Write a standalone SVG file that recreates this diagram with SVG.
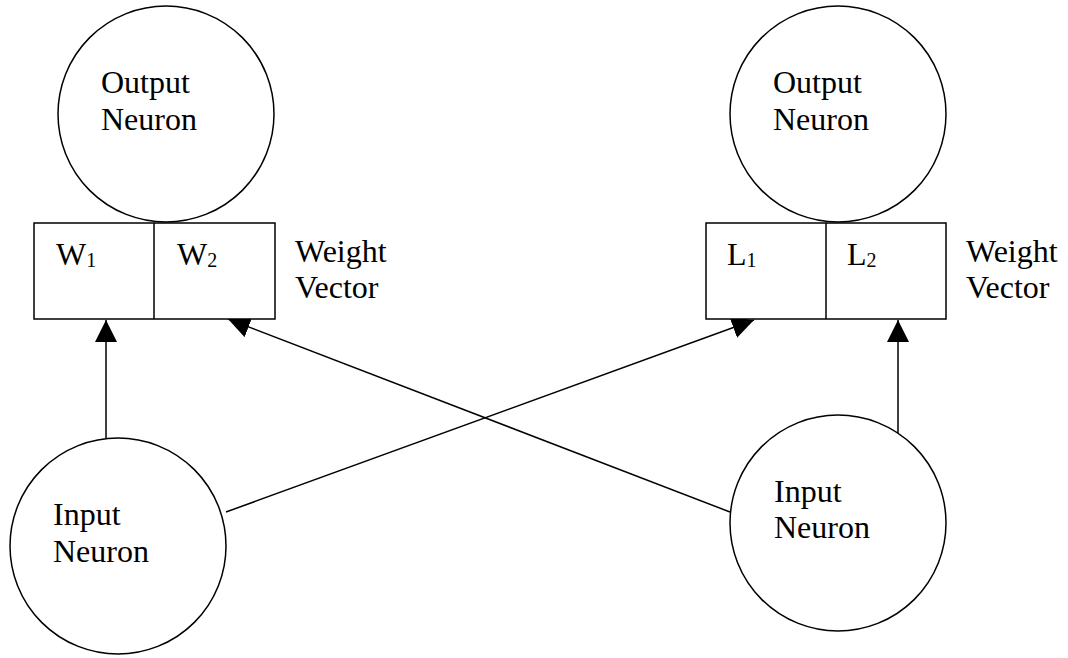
<svg xmlns="http://www.w3.org/2000/svg" width="1068" height="658" viewBox="0 0 1068 658">
<style>
.n{fill:#fff;stroke:#000;stroke-width:1.5}
.t{font-family:'Liberation Serif','Times New Roman','DejaVu Serif',serif;font-size:32px;fill:#000}
.s{font-size:20px}
.c{stroke:#000;stroke-width:1.5;fill:none;marker-end:url(#ah)}
</style>
<defs>
<marker id="ah" markerUnits="userSpaceOnUse" markerWidth="22" markerHeight="22" viewBox="0 0 20 20" refX="20" refY="10" orient="auto">
<path d="M0,0 L20,10 L0,20 Z" fill="#000"/>
</marker>
</defs>
<rect width="1068" height="658" fill="#fff"/>
<g id="connectors">
<line class="c" x1="106" y1="438" x2="106" y2="320"/>
<line class="c" x1="226" y1="512" x2="754" y2="320"/>
<line class="c" x1="730" y1="512" x2="228" y2="319"/>
<line class="c" x1="898" y1="439" x2="898" y2="320"/>
</g>
<g id="output-left">
<circle class="n" cx="166" cy="114" r="108"/>
<text class="t" font-family="Liberation Serif, serif" x="101" y="93">Output</text>
<text class="t" font-family="Liberation Serif, serif" x="101" y="130">Neuron</text>
</g>
<g id="weights-left">
<rect class="n" x="34" y="223" width="241" height="96"/>
<line x1="154" y1="223" x2="154" y2="319" stroke="#000" stroke-width="1.5"/>
<text class="t" x="56" y="265">W<tspan class="s" dy="2">1</tspan></text>
<text class="t" x="177" y="265">W<tspan class="s" dy="2">2</tspan></text>
<text class="t" x="295" y="262">Weight</text>
<text class="t" x="295" y="298">Vector</text>
</g>
<g id="output-right">
<circle class="n" cx="838" cy="114" r="108"/>
<text class="t" x="773" y="93">Output</text>
<text class="t" x="773" y="130">Neuron</text>
</g>
<g id="weights-right">
<rect class="n" x="706" y="223" width="240" height="96"/>
<line x1="826" y1="223" x2="826" y2="319" stroke="#000" stroke-width="1.5"/>
<text class="t" x="727" y="265">L<tspan class="s" dy="2">1</tspan></text>
<text class="t" x="847" y="265">L<tspan class="s" dy="2">2</tspan></text>
<text class="t" x="966" y="262">Weight</text>
<text class="t" x="966" y="298">Vector</text>
</g>
<g id="input-left">
<circle class="n" cx="118" cy="546" r="108"/>
<text class="t" x="53" y="525">Input</text>
<text class="t" x="53" y="562">Neuron</text>
</g>
<g id="input-right">
<circle class="n" cx="838" cy="523" r="108"/>
<text class="t" x="774" y="502">Input</text>
<text class="t" x="774" y="538">Neuron</text>
</g>
</svg>
